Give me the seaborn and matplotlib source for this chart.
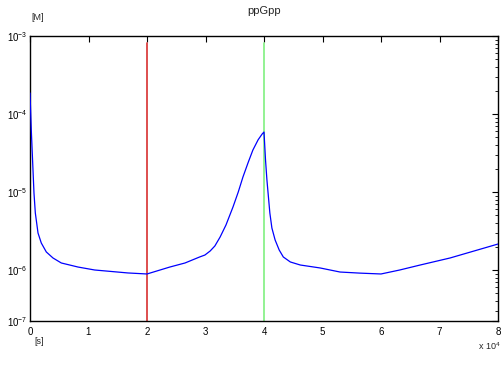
import numpy as np
import pandas as pd
import matplotlib
matplotlib.use("Agg")
import matplotlib.pyplot as plt
import matplotlib.ticker as mticker
import seaborn as sns

# curve: x pixel-free values, time in units of 1e4 s, log10 concentration [M]
time_e4 = [0.0, 0.022, 0.046, 0.068, 0.091, 0.137, 0.193, 0.279, 0.393, 0.535, 0.821, 1.106, 1.675, 2.0,
           2.39, 2.65, 2.9, 2.99, 3.08, 3.16, 3.25, 3.35, 3.47, 3.56, 3.64, 3.73, 3.81, 3.90, 3.97, 4.0,
           4.026, 4.05, 4.10, 4.135, 4.19, 4.26, 4.33, 4.45, 4.62, 4.96, 5.30, 5.64, 6.0,
           6.32, 6.67, 7.18, 8.0]
log_conc = [-3.731, -4.205, -4.628, -5.013, -5.269, -5.526, -5.654, -5.769, -5.846, -5.910, -5.962, -6.000, -6.038, -6.051,
            -5.962, -5.910, -5.833, -5.808, -5.756, -5.692, -5.577, -5.423, -5.192, -5.000, -4.808, -4.620, -4.462, -4.330, -4.255, -4.231,
            -4.590, -4.846, -5.269, -5.462, -5.615, -5.744, -5.833, -5.897, -5.936, -5.974, -6.026, -6.040, -6.051,
            -6.000, -5.936, -5.846, -5.667]
event_times_e4 = [2.0, 4.0]
event_colors = ["#d83030", "#80f080"]
x_tick_labels = ["0", "1", "2", "3", "4", "5", "6", "7", "8"]
y_tick_labels = [r"$10^{-3}$", r"$10^{-4}$", r"$10^{-5}$", r"$10^{-6}$", r"$10^{-7}$"]

sns.set_style("white")
plt.rcParams["font.family"] = ["Liberation Sans", "DejaVu Sans"]
plt.rcParams["mathtext.fontset"] = "custom"
plt.rcParams["mathtext.rm"] = "Liberation Sans"
plt.rcParams["mathtext.it"] = "Liberation Sans"

df = pd.DataFrame({"t": np.array(time_e4) * 1e4,
                   "c": 10.0 ** np.array(log_conc)})

fig = plt.figure(figsize=(5.01, 3.77), dpi=100)
ax = fig.add_axes([30 / 501, 1 - 321 / 377, 468 / 501, 285 / 377])

ax.set_yscale("log")
ymin = 10 ** (-3 - 285 / 78)
ax.set_ylim(ymin, 1e-3)
ax.set_xlim(0, 80000)

for tx, col in zip(event_times_e4, event_colors):
    ax.axvline(tx * 1e4, ymin=0, ymax=(321 - 43) / 285, color=col, lw=1.2, zorder=2)

sns.lineplot(data=df, x="t", y="c", ax=ax, color="#0000ff", lw=0.9, zorder=3)

ax.set_xticks(np.arange(0, 80001, 10000))
ax.set_xticklabels(x_tick_labels)
ax.set_yticks([1e-3, 1e-4, 1e-5, 1e-6, ymin])
ax.set_yticklabels(y_tick_labels)
ax.yaxis.set_minor_locator(mticker.LogLocator(base=10, subs=np.arange(2, 10), numticks=20))
ax.yaxis.set_minor_formatter(mticker.NullFormatter())

ax.tick_params(which="both", direction="in", top=True, right=True, labelsize=7, colors="black")
ax.tick_params(which="major", length=4, width=0.8)
ax.tick_params(which="minor", length=2, width=0.6)
ax.tick_params(axis="x", pad=4)
ax.tick_params(axis="y", pad=2)
for s in ax.spines.values():
    s.set_color("black")
    s.set_linewidth(1.0)
ax.set_xlabel("")
ax.set_ylabel("")

fig.text(264 / 501, 1 - 11 / 377, "ppGpp", ha="center", va="center", fontsize=8)
fig.text(31 / 501, 1 - 18 / 377, "[M]", ha="left", va="center", fontsize=6.5)
fig.text(34 / 501, 1 - 341 / 377, "[s]", ha="left", va="center", fontsize=6.5)
fig.text(478 / 501, 1 - 346 / 377, r"x $10^{4}$", ha="left", va="center", fontsize=6.5)

fig.savefig("out.png", dpi=100)
